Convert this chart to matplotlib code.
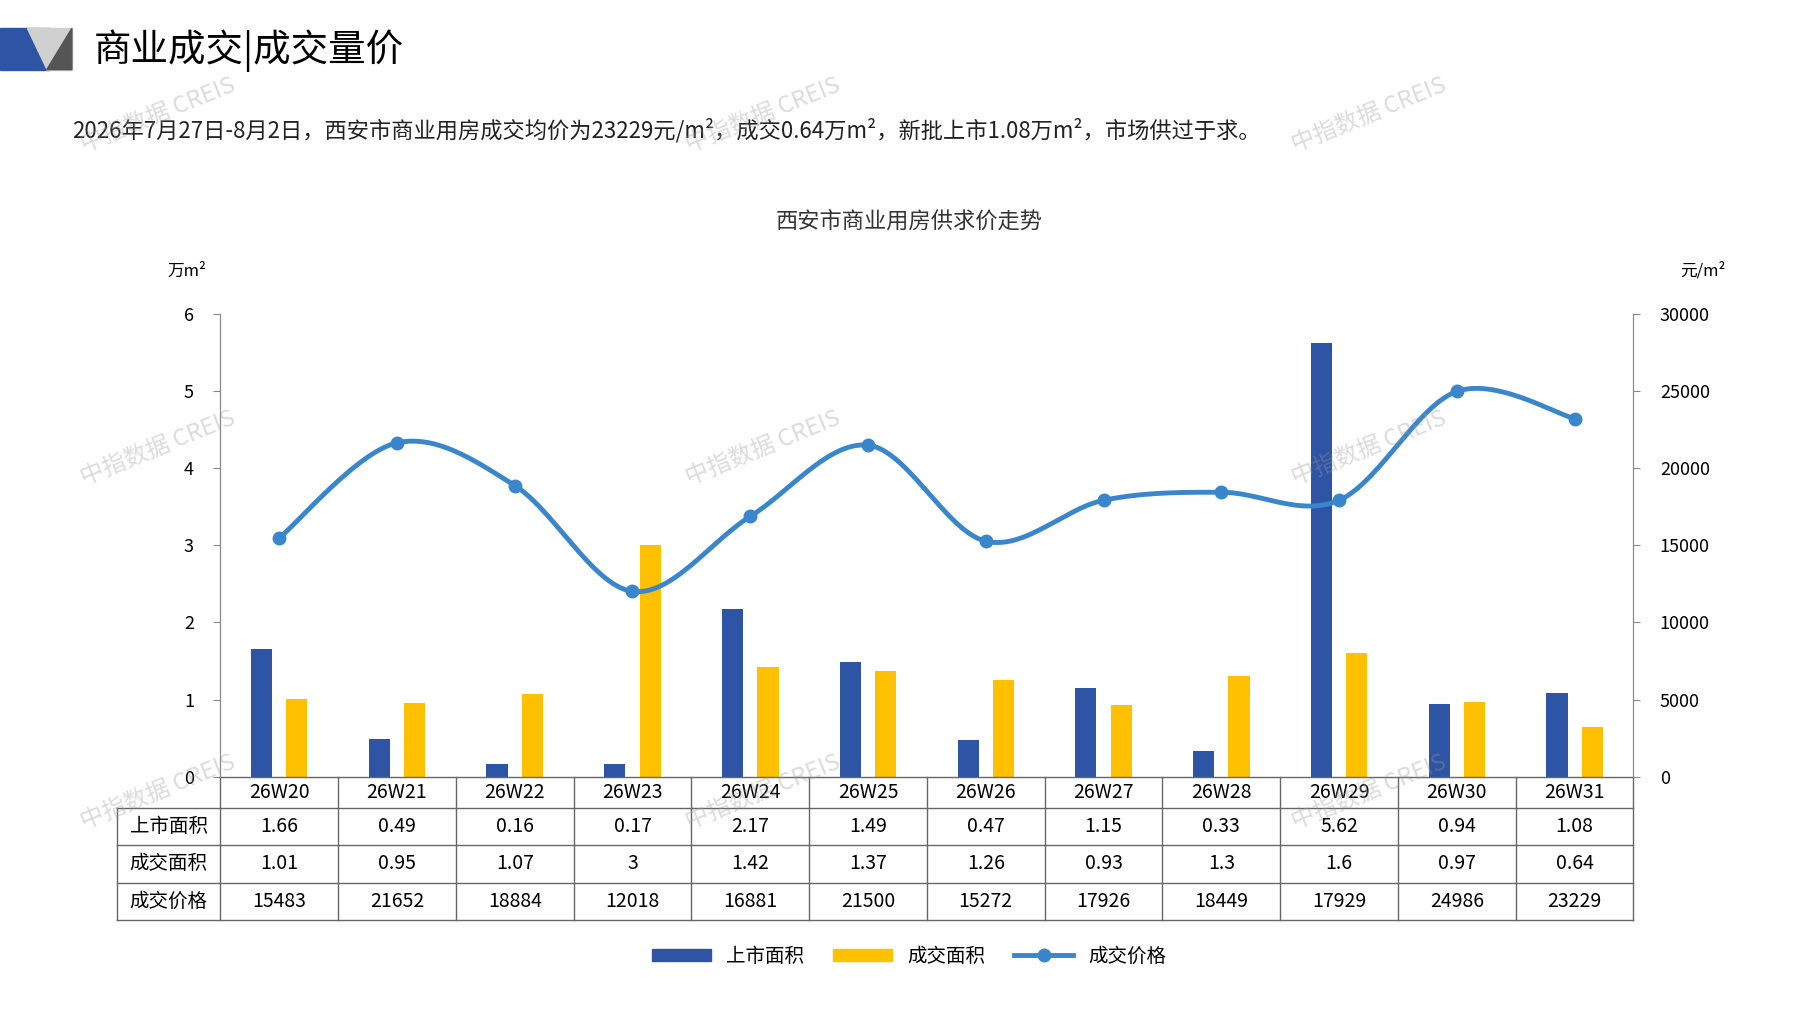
import numpy as np
import matplotlib
matplotlib.use('Agg')
import matplotlib.pyplot as plt
from matplotlib.patches import Polygon, Patch
from matplotlib.lines import Line2D
import matplotlib.transforms as mtrans

plt.rcParams['font.family'] = ['Noto Sans CJK SC', 'DejaVu Sans']

weeks = ['26W20', '26W21', '26W22', '26W23', '26W24', '26W25', '26W26', '26W27', '26W28', '26W29', '26W30', '26W31']
supply = [1.66, 0.49, 0.16, 0.17, 2.17, 1.49, 0.47, 1.15, 0.33, 5.62, 0.94, 1.08]
deal = [1.01, 0.95, 1.07, 3, 1.42, 1.37, 1.26, 0.93, 1.3, 1.6, 0.97, 0.64]
price = [15483, 21652, 18884, 12018, 16881, 21500, 15272, 17926, 18449, 17929, 24986, 23229]
supply_txt = ['1.66', '0.49', '0.16', '0.17', '2.17', '1.49', '0.47', '1.15', '0.33', '5.62', '0.94', '1.08']
deal_txt = ['1.01', '0.95', '1.07', '3', '1.42', '1.37', '1.26', '0.93', '1.3', '1.6', '0.97', '0.64']

c_blue = '#2E54A6'
c_yel = '#FFC000'
c_line = '#3A86CC'

fig = plt.figure(figsize=(17.97, 10.10), dpi=100)
ax = fig.add_axes([0.1226, 0.231, 0.7864, 0.458])
ax2 = ax.twinx()

x = np.arange(len(weeks))
ax.bar(x - 0.15, supply, width=0.18, color=c_blue, zorder=2)
ax.bar(x + 0.15, deal, width=0.18, color=c_yel, zorder=2)

# smooth line (Catmull-Rom through the points)
pts = np.column_stack([x, price]).astype(float)
ext = np.vstack([pts[0], pts, pts[-1]])
xs, ys = [], []
for i in range(1, len(ext) - 2):
    p0, p1, p2, p3 = ext[i - 1], ext[i], ext[i + 1], ext[i + 2]
    t = np.linspace(0, 1, 30)[:, None]
    seg = 0.5 * (2 * p1 + (-p0 + p2) * t + (2 * p0 - 5 * p1 + 4 * p2 - p3) * t ** 2 + (-p0 + 3 * p1 - 3 * p2 + p3) * t ** 3)
    xs.extend(seg[:, 0]); ys.extend(seg[:, 1])
ax2.plot(xs, ys, color=c_line, lw=3.5, zorder=3)
ax2.plot(x, price, 'o', color=c_line, ms=9, zorder=4)

ax.set_xlim(-0.5, 11.5)
ax.set_ylim(0, 6)
ax2.set_ylim(0, 30000)
ax.set_yticks(range(7))
ax2.set_yticks(range(0, 30001, 5000))
ax.set_xticks([])
for a in (ax, ax2):
    for s in ['top', 'bottom']:
        a.spines[s].set_visible(False)
    a.spines['left'].set_color('#888888')
    a.spines['right'].set_color('#888888')
    a.tick_params(labelsize=13, color='#888888', length=5)
ax.tick_params(axis='y', pad=14)
ax2.tick_params(axis='y', pad=14)

# table under the plot
tr = mtrans.blended_transform_factory(ax.transData, ax.transAxes)
rows_y = [0, -0.067, -0.147, -0.229, -0.309]
lx = -1.375
lc = '#666666'
ax.plot([-0.5, 11.5], [0, 0], transform=tr, color=lc, lw=1, clip_on=False)
for yv in rows_y[1:]:
    ax.plot([lx, 11.5], [yv, yv], transform=tr, color=lc, lw=1, clip_on=False)
ax.plot([lx, lx], [rows_y[1], rows_y[-1]], transform=tr, color=lc, lw=1, clip_on=False)
for b in np.arange(-0.5, 12, 1):
    ax.plot([b, b], [0, rows_y[-1]], transform=tr, color=lc, lw=1, clip_on=False)
labels = ['上市面积', '成交面积', '成交价格']
cols = [weeks, supply_txt, deal_txt, [str(p) for p in price]]
for r in range(4):
    yc = (rows_y[r] + rows_y[r + 1]) / 2
    for i, t in enumerate(cols[r]):
        ax.text(i, yc, t, transform=tr, ha='center', va='center', fontsize=14)
    if r > 0:
        ax.text((lx - 0.5) / 2, yc, labels[r - 1], transform=tr, ha='center', va='center', fontsize=14)

fig.text(0.093, 0.727, '万m²', fontsize=12)
fig.text(0.935, 0.727, '元/m²', fontsize=12)
fig.text(0.506, 0.775, '西安市商业用房供求价走势', fontsize=16, ha='center', color='#333333')

# header
fig.patches.append(Polygon([[0, 0.972], [0.028, 0.972], [0.028, 0.931], [0, 0.931]], closed=True, transform=fig.transFigure, color='#2E54A6'))
fig.patches.append(Polygon([[0.015, 0.972], [0.04, 0.972], [0.04, 0.931], [0.026, 0.931]], closed=True, transform=fig.transFigure, color='#D0D0D0'))
fig.patches.append(Polygon([[0.026, 0.931], [0.04, 0.972], [0.04, 0.931]], closed=True, transform=fig.transFigure, color='#555555'))
fig.text(0.052, 0.95, '商业成交|成交量价', fontsize=27, va='center')
fig.text(0.04, 0.871, '2026年7月27日-8月2日，西安市商业用房成交均价为23229元/m²，成交0.64万m²，新批上市1.08万m²，市场供过于求。',
         fontsize=16, va='center', color='#222222')

# watermarks
for wx in [0.043, 0.38, 0.717]:
    for wy in [0.85, 0.52, 0.18]:
        fig.text(wx, wy, '中指数据 CREIS', fontsize=17, color='#999999', alpha=0.35, rotation=22)

# legend
handles = [Patch(color=c_blue, label='上市面积'), Patch(color=c_yel, label='成交面积'),
           Line2D([0], [0], color=c_line, lw=3.5, marker='o', ms=9, label='成交价格')]
fig.legend(handles=handles, loc='center', bbox_to_anchor=(0.506, 0.053), ncol=3, frameon=False,
           fontsize=14, handlelength=3, handleheight=0.6, columnspacing=1.5)

fig.savefig('out.png', dpi=100, facecolor='white')
